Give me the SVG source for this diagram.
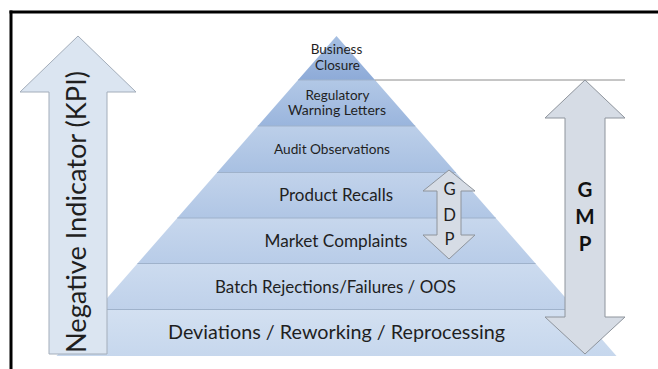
<svg xmlns="http://www.w3.org/2000/svg" width="658" height="369" viewBox="0 0 658 369">
<defs>
<linearGradient id="g1" x1="0" y1="0" x2="0" y2="1"><stop offset="0" stop-color="#a6bfe2"/><stop offset="1" stop-color="#8eabd8"/></linearGradient>
<linearGradient id="g2" x1="0" y1="0" x2="0" y2="1"><stop offset="0" stop-color="#b2c8e6"/><stop offset="1" stop-color="#9ab5dd"/></linearGradient>
<linearGradient id="g3" x1="0" y1="0" x2="0" y2="1"><stop offset="0" stop-color="#bccfe9"/><stop offset="1" stop-color="#a8c0e2"/></linearGradient>
<linearGradient id="g4" x1="0" y1="0" x2="0" y2="1"><stop offset="0" stop-color="#c2d3eb"/><stop offset="1" stop-color="#b0c6e5"/></linearGradient>
<linearGradient id="g5" x1="0" y1="0" x2="0" y2="1"><stop offset="0" stop-color="#c7d7ed"/><stop offset="1" stop-color="#b8cce8"/></linearGradient>
<linearGradient id="g6" x1="0" y1="0" x2="0" y2="1"><stop offset="0" stop-color="#ccdbef"/><stop offset="1" stop-color="#bfd1ea"/></linearGradient>
<linearGradient id="g7" x1="0" y1="0" x2="0" y2="1"><stop offset="0" stop-color="#d3e0f1"/><stop offset="1" stop-color="#c6d7ed"/></linearGradient>
</defs>
<style>
.t{font-family:Lato,"Open Sans","Liberation Sans",sans-serif;fill:#1f1f1f;text-anchor:middle}
.sep{stroke:#9fb2cb;stroke-width:1}
.arrowb{fill:#dbe5f1;stroke:#a3adba;stroke-width:1}
.arrowg{fill:#d6dce5;stroke:#8e949c;stroke-width:1}
.b{font-weight:bold;fill:#111}
</style>
<rect width="658" height="369" fill="#fff"/>
<g id="frame" stroke="#000" stroke-width="3" fill="none">
<line x1="9.5" y1="12" x2="658" y2="12"/>
<line x1="11" y1="10.5" x2="11" y2="369"/>
</g>
<g id="pyramid">
<g id="layer-business-closure">
<polygon points="336.5,36 375,80 298,80" fill="url(#g1)"/>
<text class="t" x="336.5" y="54" font-size="13.5">Business</text>
<text class="t" x="337.5" y="70" font-size="13.5">Closure</text>
</g>
<g id="layer-warning-letters">
<polygon points="298,80 375,80 415.25,126 257.75,126" fill="url(#g2)"/>
<text class="t" x="337.5" y="100" font-size="13.5">Regulatory</text>
<text class="t" x="337" y="115" font-size="13.5" textLength="98" lengthAdjust="spacingAndGlyphs">Warning Letters</text>
</g>
<g id="layer-audit">
<polygon points="257.75,126 415.25,126 455.94,172.5 217.06,172.5" fill="url(#g3)"/>
<text class="t" x="332" y="154" font-size="13.5" textLength="116" lengthAdjust="spacingAndGlyphs">Audit Observations</text>
</g>
<g id="layer-recalls">
<polygon points="217.06,172.5 455.94,172.5 495.75,218 177.25,218" fill="url(#g4)"/>
<text class="t" x="336" y="201" font-size="16.5" textLength="114" lengthAdjust="spacingAndGlyphs">Product Recalls</text>
</g>
<g id="layer-complaints">
<polygon points="177.25,218 495.75,218 535.56,263.5 137.44,263.5" fill="url(#g5)"/>
<text class="t" x="336" y="246.5" font-size="16.5" textLength="143" lengthAdjust="spacingAndGlyphs">Market Complaints</text>
</g>
<g id="layer-batch">
<polygon points="137.44,263.5 535.56,263.5 575.81,309.5 97.19,309.5" fill="url(#g6)"/>
<text class="t" x="335.5" y="292.5" font-size="16.8" textLength="241" lengthAdjust="spacingAndGlyphs">Batch Rejections/Failures / OOS</text>
</g>
<g id="layer-deviations">
<polygon points="97.19,309.5 575.81,309.5 616.5,356 56.5,356" fill="url(#g7)"/>
<text class="t" x="336.5" y="339" font-size="19.4" textLength="337" lengthAdjust="spacingAndGlyphs">Deviations / Reworking / Reprocessing</text>
</g>
<g id="separators">
<line class="sep" x1="298" y1="80" x2="375" y2="80"/>
<line class="sep" x1="257.75" y1="126" x2="415.25" y2="126"/>
<line class="sep" x1="217.06" y1="172.5" x2="455.94" y2="172.5"/>
<line class="sep" x1="177.25" y1="218" x2="495.75" y2="218"/>
<line class="sep" x1="137.44" y1="263.5" x2="535.56" y2="263.5"/>
<line class="sep" x1="97.19" y1="309.5" x2="575.81" y2="309.5"/>
</g>
</g>
<g id="connectors">
<line x1="375" y1="80" x2="625" y2="80" stroke="#8c8c8c" stroke-width="1"/>
</g>
<g id="kpi-arrow">
<polygon class="arrowb" points="78,36 20,92 49,92 49,354 107,354 107,92 136,92"/>
<text class="t" transform="translate(85.5,212) rotate(-90)" x="0" y="0" font-size="26.4" textLength="282" lengthAdjust="spacingAndGlyphs">Negative Indicator (KPI)</text>
</g>
<g id="gmp-arrow">
<polygon class="arrowg" points="585,80 545,118 565,118 565,317 545,317 585,354 625,317 605,317 605,118 625,118"/>
<text class="t b" x="585" y="197" font-size="20.5">G</text>
<text class="t b" x="585" y="224" font-size="20.5">M</text>
<text class="t b" x="585" y="251" font-size="20.5">P</text>
</g>
<g id="gdp-arrow">
<polygon class="arrowg" points="449,170 423,191 437,191 437,235 423,235 449,259 475,235 461,235 461,191 475,191"/>
<text class="t" x="449.5" y="195" font-size="16.7">G</text>
<text class="t" x="449.5" y="221" font-size="16.7">D</text>
<text class="t" x="449.5" y="245" font-size="16.7">P</text>
</g>
</svg>
